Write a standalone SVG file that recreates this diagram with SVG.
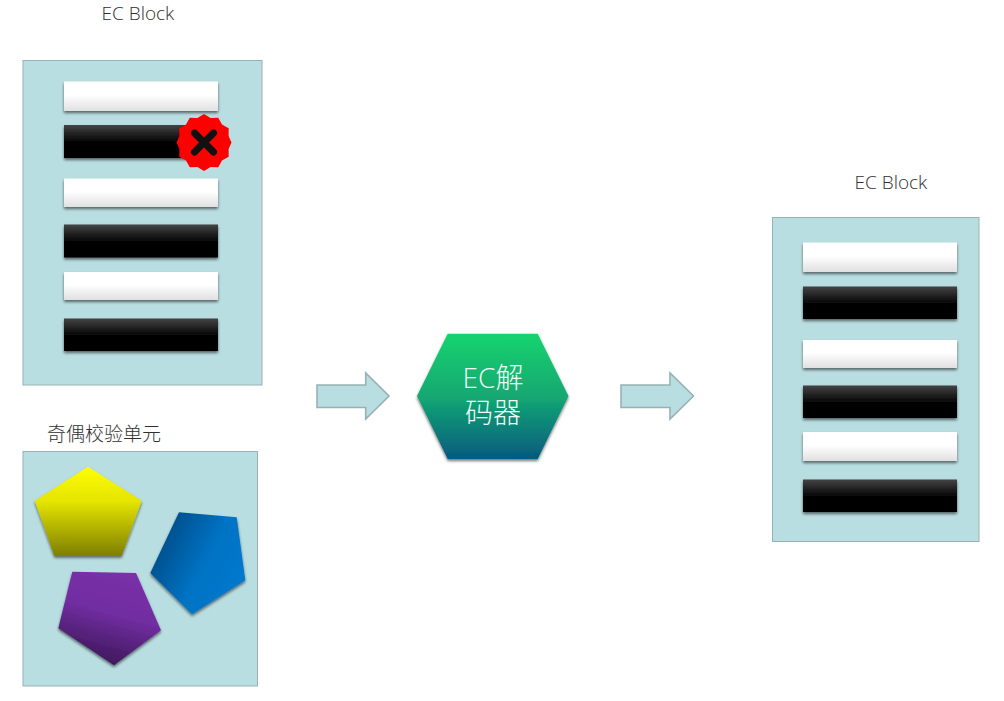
<svg xmlns="http://www.w3.org/2000/svg" width="1004" height="701" viewBox="0 0 1004 701">
<style>
.panel{fill:#b9dee2;stroke:#97b2b6;stroke-width:1}
.arrow{fill:#b9dee2;stroke:#97b2b6;stroke-width:1.6}
.lbl{font-family:"Open Sans","Noto Sans CJK SC",sans-serif;font-weight:300;font-size:19px;fill:#303030}
.hexlbl{font-family:"Open Sans","Noto Sans CJK SC",sans-serif;font-weight:300;font-size:28px;fill:#eefaf5;text-anchor:middle}
.w{fill:url(#gw);filter:url(#sh)}
.b{fill:url(#gb);filter:url(#sh)}
</style>
<defs>
<filter id="sh" x="-20%" y="-30%" width="140%" height="170%"><feDropShadow dx="0" dy="2" stdDeviation="1.8" flood-color="#000" flood-opacity=".55"/></filter>
<linearGradient id="gw" x1="0" y1="0" x2="0" y2="1"><stop offset=".45" stop-color="#fff"/><stop offset="1" stop-color="#e0e0e0"/></linearGradient>
<linearGradient id="gb" x1="0" y1="0" x2="0" y2="1"><stop offset="0" stop-color="#444"/><stop offset=".55" stop-color="#000"/><stop offset="1" stop-color="#000"/></linearGradient>
<linearGradient id="gy" x1="0" y1="0" x2="0" y2="1"><stop offset="0" stop-color="#ffff00"/><stop offset=".4" stop-color="#e3e300"/><stop offset="1" stop-color="#7f7f00"/></linearGradient>
<linearGradient id="gbl" x1="0" y1="0" x2="1" y2="0.55"><stop offset="0" stop-color="#003f73"/><stop offset=".65" stop-color="#0073c4"/><stop offset="1" stop-color="#0078cc"/></linearGradient>
<linearGradient id="gp" x1="0.65" y1="0" x2="0.35" y2="1"><stop offset="0" stop-color="#7a30a8"/><stop offset=".45" stop-color="#702da0"/><stop offset="1" stop-color="#3a1654"/></linearGradient>
<linearGradient id="gh" x1="0" y1="0" x2="0" y2="1"><stop offset="0" stop-color="#17d36e"/><stop offset=".5" stop-color="#13a872"/><stop offset="1" stop-color="#055a80"/></linearGradient>
</defs>
<g id="left-block">
<text class="lbl" x="101.5" y="20">EC Block</text>
<rect class="panel" x="23" y="60.5" width="239" height="324.5"/>
<rect class="w" x="64" y="81.5" width="154" height="29.5"/>
<rect class="b" x="64" y="125" width="154" height="33"/>
<rect class="w" x="64" y="178.5" width="154" height="28.5"/>
<rect class="b" x="64" y="224.5" width="154" height="33"/>
<rect class="w" x="64" y="272" width="154" height="28"/>
<rect class="b" x="64" y="318.5" width="154" height="32.5"/>
</g>
<g id="error-mark" transform="translate(204 142.5)">
<polygon fill="#ff0000" points="0,-28.5 6.6,-24.6 14.25,-24.7 18,-18 24.7,-14.25 24.6,-6.6 27.5,0 24.6,6.6 24.7,14.25 18,18 14.25,24.7 6.6,24.6 0,28.5 -6.6,24.6 -14.25,24.7 -18,18 -24.7,14.25 -24.6,6.6 -27.5,0 -24.6,-6.6 -24.7,-14.25 -18,-18 -14.25,-24.7 -6.6,-24.6"/>
<path d="M-9.5,-9.5L9.5,9.5M9.5,-9.5L-9.5,9.5" stroke="#111" stroke-width="7" stroke-linecap="round" fill="none"/>
</g>
<g id="parity-block">
<text class="lbl" x="47" y="441">奇偶校验单元</text>
<rect class="panel" x="23" y="451.5" width="234.5" height="234.5"/>
<polygon fill="url(#gy)" filter="url(#sh)" points="88,466.7 141.7,500.7 121.7,555.7 54.3,555.7 34.7,500.7"/>
<polygon fill="url(#gbl)" filter="url(#sh)" points="179,512.3 236.7,517.3 245.3,580.3 192,614.3 150.3,573"/>
<polygon fill="url(#gp)" filter="url(#sh)" points="72.3,571.7 136,573 161,630.3 114,665.3 58.3,628.3"/>
</g>
<g id="decoder">
<polygon fill="url(#gh)" filter="url(#sh)" points="447.7,333.7 537.7,333.7 568.5,396 537.7,459 447.7,459 417,396"/>
<text class="hexlbl" x="493" y="388">EC解</text>
<text class="hexlbl" x="493" y="423">码器</text>
</g>
<g id="right-block">
<text class="lbl" x="854.5" y="189">EC Block</text>
<rect class="panel" x="772.5" y="217.5" width="206.5" height="324"/>
<rect class="w" x="803" y="242.5" width="154" height="29.5"/>
<rect class="b" x="803" y="286.5" width="154" height="32.5"/>
<rect class="w" x="803" y="340" width="154" height="28"/>
<rect class="b" x="803" y="385.5" width="154" height="32.5"/>
<rect class="w" x="803" y="432" width="154" height="29"/>
<rect class="b" x="803" y="479.5" width="154" height="32.5"/>
</g>
<g id="connectors">
<polygon class="arrow" points="317,385 365.7,385 365.7,373 389,396 365.7,419 365.7,407.5 317,407.5"/>
<polygon class="arrow" points="621,385 670,385 670,373 693.5,396 670,419 670,407.5 621,407.5"/>
</g>
</svg>
